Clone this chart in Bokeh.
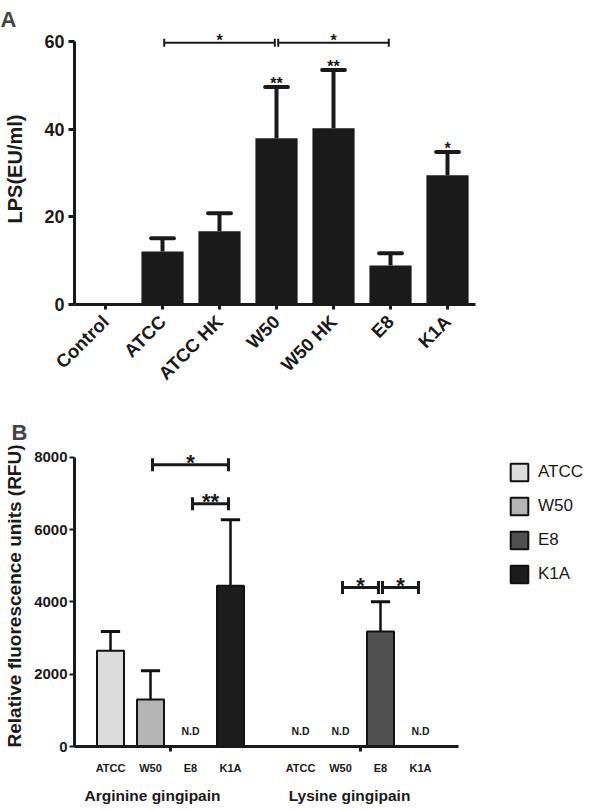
import math
from bokeh.plotting import figure
from bokeh.models import (ColumnDataSource, FixedTicker, LinearAxis, Legend,
                          LegendItem, Range1d)
from bokeh.layouts import column
from bokeh.embed import file_html
from bokeh.resources import INLINE
from bokeh.core.properties import value

# ---------------- Panel A data ----------------
a_categories = ["Control", "ATCC", "ATCC HK", "W50", "W50 HK", "E8", "K1A"]
a_means = [0.0, 12.1, 16.7, 37.9, 40.2, 8.9, 29.5]
a_upper = [0.0, 15.1, 20.8, 49.6, 53.5, 11.7, 34.8]
a_marks = ["", "", "", "**", "**", "", "*"]
a_y_ticks = [0, 20, 40, 60]
a_brackets_from = ["ATCC", "W50"]
a_brackets_to = ["W50", "E8"]
a_brackets_y = [59.7, 59.7]
a_brackets_mark = ["*", "*"]

# ---------------- Panel B data ----------------
b_strains = ["ATCC", "W50", "E8", "K1A"]
b_colors = ["#dcdcdc", "#b4b4b4", "#505050", "#1c1c1c"]
b_groups = ["Arginine gingipain", "Lysine gingipain"]
b_arg_means = [2650, 1300, 0, 4450]
b_arg_upper = [3180, 2100, 0, 6280]
b_lys_means = [0, 0, 3180, 0]
b_lys_upper = [0, 0, 4010, 0]
b_y_ticks = [0, 2000, 4000, 6000, 8000]
b_br_group = [0, 0, 1, 1]
b_br_from = ["W50", "E8", "W50", "E8"]
b_br_to = ["K1A", "K1A", "E8", "K1A"]
b_br_y = [7800, 6720, 4400, 4400]
b_br_mark = ["*", "**", "*", "*"]

FONT = "Liberation Sans"
INK = "#1a1a1a"

# ======================= Panel A =======================
a_pos = [i + 1 for i in range(len(a_categories))]
pA = figure(frame_width=510, frame_height=271,
            x_range=Range1d(0.456, 0.456 + 510 / 57), y_range=Range1d(0, 61.8),
            output_backend="svg", toolbar_location=None,
            min_border_left=74, min_border_right=0, min_border_top=33,
            min_border_bottom=85, outline_line_color=None)
pA.xgrid.visible = False
pA.ygrid.visible = False

pA.title.text = "A"
pA.title.text_font = FONT
pA.title.text_font_size = "22px"
pA.title.text_font_style = "bold"
pA.title.align = "left"
pA.title.offset = -74
pA.title.standoff = 4

srcA = ColumnDataSource(dict(x=a_pos, top=a_means, mark=a_marks, up=a_upper))
err_idx = [i for i in range(len(a_pos)) if a_upper[i] > a_means[i]]
srcAe = ColumnDataSource(dict(x=[a_pos[i] for i in err_idx],
                              top=[a_means[i] for i in err_idx],
                              up=[a_upper[i] for i in err_idx],
                              cl=[a_pos[i] - 0.2 for i in err_idx],
                              cr=[a_pos[i] + 0.2 for i in err_idx]))
pA.segment(x0="x", y0="top", x1="x", y1="up", source=srcAe, line_color=INK, line_width=4)
pA.segment(x0="cl", y0="up", x1="cr", y1="up", source=srcAe, line_color=INK,
           line_width=4, line_cap="round")
pA.vbar(x="x", top="top", bottom=0, width=0.74, source=srcA, fill_color=INK, line_color=None)
pA.text(x="x", y="up", text="mark", source=srcA, text_align="center",
        text_baseline="alphabetic", y_offset=-3, text_font=value(FONT),
        text_font_size="16px", text_font_style="bold", text_color=INK)

# brackets
idx = {c: i + 1 for i, c in enumerate(a_categories)}
bx0 = [idx[c] + 0.03 for c in a_brackets_from]
bx1 = [idx[c] - 0.03 for c in a_brackets_to]
pA.segment(x0=bx0, y0=a_brackets_y, x1=bx1, y1=a_brackets_y, line_color=INK, line_width=2)
pA.segment(x0=bx0 + bx1, y0=[y - 0.9 for y in a_brackets_y * 2],
           x1=bx0 + bx1, y1=[y + 0.9 for y in a_brackets_y * 2], line_color=INK, line_width=2)
pA.text(x=[(a + b) / 2 for a, b in zip(bx0, bx1)], y=a_brackets_y, text=a_brackets_mark,
        text_align="center", text_baseline="alphabetic", y_offset=-2,
        text_font=value(FONT), text_font_size="16px", text_font_style="bold", text_color=INK)

ya = pA.yaxis[0]
ya.ticker = FixedTicker(ticks=a_y_ticks)
ya.bounds = (0, 60)
ya.axis_line_width = 3
ya.axis_line_color = INK
ya.major_tick_out = 6
ya.major_tick_in = 0
ya.major_tick_line_width = 3
ya.major_tick_line_color = INK
ya.minor_tick_line_color = None
ya.major_label_text_font = FONT
ya.major_label_text_font_size = "18px"
ya.major_label_text_font_style = "bold"
ya.major_label_text_color = INK
ya.major_label_standoff = 4
ya.axis_label = "LPS(EU/ml)"
ya.axis_label_text_font = FONT
ya.axis_label_text_font_size = "20px"
ya.axis_label_text_font_style = "bold"
ya.axis_label_text_color = INK
ya.axis_label_standoff = 15

xa = pA.xaxis[0]
xa.ticker = FixedTicker(ticks=a_pos)
xa.major_label_overrides = {p: c for p, c in zip(a_pos, a_categories)}
xa.bounds = (0.456, 7.49)
xa.axis_line_width = 3
xa.axis_line_color = INK
xa.major_tick_out = 5
xa.major_tick_in = 0
xa.major_tick_line_width = 3
xa.major_tick_line_color = INK
xa.minor_tick_line_color = None
xa.major_label_orientation = math.pi / 4
xa.major_label_text_font = FONT
xa.major_label_text_font_size = "18.5px"
xa.major_label_text_font_style = "bold"
xa.major_label_text_color = INK
xa.major_label_standoff = 9

# ======================= Panel B =======================
arg_pos = [0.9 + i for i in range(len(b_strains))]
lys_pos = [5.65 + i for i in range(len(b_strains))]
group_centers = [(arg_pos[0] + arg_pos[-1]) / 2, (lys_pos[0] + lys_pos[-1]) / 2]
group_label_pos = [1.95, 6.875]

pB = figure(frame_width=521, frame_height=301,
            x_range=Range1d(0, 521 / 40), y_range=Range1d(0, 8332),
            output_backend="svg", toolbar_location=None,
            min_border_left=63, min_border_right=0, min_border_top=51,
            min_border_bottom=50, outline_line_color=None)
pB.xgrid.visible = False
pB.ygrid.visible = False

pB.title.text = "B"
pB.title.text_font = FONT
pB.title.text_font_size = "22px"
pB.title.text_font_style = "bold"
pB.title.align = "left"
pB.title.offset = -63
pB.title.standoff = 2

items = []
ex, ey0, ey1 = [], [], []
nd_x = []
for i, s in enumerate(b_strains):
    xs, tops, ups = [], [], []
    for pos, m, u in ((arg_pos[i], b_arg_means[i], b_arg_upper[i]),
                      (lys_pos[i], b_lys_means[i], b_lys_upper[i])):
        if m > 0:
            xs.append(pos); tops.append(m); ups.append(u)
        else:
            nd_x.append(pos)
    ex += xs; ey0 += tops; ey1 += ups
    src = ColumnDataSource(dict(x=xs, top=tops))
    r = pB.vbar(x="x", top="top", bottom=0, width=0.675, source=src,
                fill_color=b_colors[i], line_color="#111111", line_width=2)
    items.append(LegendItem(label=s, renderers=[r]))

pB.segment(x0=ex, y0=ey1, x1=ex, y1=ey0, line_color="#111111", line_width=2.5, level="underlay")
pB.segment(x0=[x - 0.24 for x in ex], y0=ey1, x1=[x + 0.24 for x in ex], y1=ey1,
           line_color="#111111", line_width=3)

pB.text(x=nd_x, y=[0] * len(nd_x), text=["N.D"] * len(nd_x), text_align="center",
        text_baseline="middle", y_offset=-16, text_font=value(FONT),
        text_font_size="10.5px", text_font_style="bold", text_color=INK)

posmap = [dict(zip(b_strains, arg_pos)), dict(zip(b_strains, lys_pos))]
cx0 = [posmap[g][a] + 0.05 for g, a in zip(b_br_group, b_br_from)]
cx1 = [posmap[g][b] - 0.05 for g, b in zip(b_br_group, b_br_to)]
pB.segment(x0=cx0, y0=b_br_y, x1=cx1, y1=b_br_y, line_color=INK, line_width=3)
pB.segment(x0=cx0 + cx1, y0=[y - 180 for y in b_br_y * 2],
           x1=cx0 + cx1, y1=[y + 180 for y in b_br_y * 2], line_color=INK, line_width=3)
pB.text(x=[(a + b) / 2 for a, b in zip(cx0, cx1)], y=b_br_y, text=b_br_mark,
        text_align="center", text_baseline="alphabetic", y_offset=-2,
        text_font=value(FONT), text_font_size="22px", text_font_style="bold", text_color=INK)

yb = pB.yaxis[0]
yb.ticker = FixedTicker(ticks=b_y_ticks)
yb.bounds = (0, 8000)
yb.axis_line_width = 3
yb.axis_line_color = INK
yb.major_tick_out = 5
yb.major_tick_in = 0
yb.major_tick_line_width = 2
yb.major_tick_line_color = INK
yb.minor_tick_line_color = None
yb.major_label_text_font = FONT
yb.major_label_text_font_size = "15px"
yb.major_label_text_font_style = "bold"
yb.major_label_text_color = INK
yb.major_label_standoff = 2
yb.axis_label = "Relative fluorescence units (RFU)"
yb.axis_label_text_font = FONT
yb.axis_label_text_font_size = "19px"
yb.axis_label_text_font_style = "bold"
yb.axis_label_text_color = INK
yb.axis_label_standoff = 6

xb = pB.xaxis[0]
sub_pos = arg_pos + lys_pos
xb.ticker = FixedTicker(ticks=sub_pos, minor_ticks=group_centers)
xb.major_label_overrides = {p: s for p, s in zip(sub_pos, b_strains * 2)}
xb.bounds = (0, 9.6)
xb.axis_line_width = 3
xb.axis_line_color = INK
xb.major_tick_out = 0
xb.major_tick_in = 0
xb.major_tick_line_color = None
xb.minor_tick_out = 5
xb.minor_tick_in = 0
xb.minor_tick_line_width = 3
xb.minor_tick_line_color = INK
xb.major_label_text_font = FONT
xb.major_label_text_font_size = "11px"
xb.major_label_text_font_style = "bold"
xb.major_label_text_color = INK
xb.major_label_standoff = 10

xg = LinearAxis(ticker=FixedTicker(ticks=group_label_pos),
                major_label_overrides={p: g for p, g in zip(group_label_pos, b_groups)})
xg.axis_line_color = None
xg.major_tick_line_color = None
xg.minor_tick_line_color = None
xg.major_label_text_font = FONT
xg.major_label_text_font_size = "15.5px"
xg.major_label_text_font_style = "bold"
xg.major_label_text_color = INK
xg.major_label_standoff = 4
pB.add_layout(xg, "below")

legend = Legend(items=items, location=(435, 161), glyph_width=22, glyph_height=22,
                label_height=22, spacing=12, padding=0, margin=0,
                border_line_alpha=0, background_fill_alpha=0, label_standoff=8,
                label_text_font=FONT, label_text_font_size="17px", label_text_color=INK)
pB.add_layout(legend)

layout = column(pA, pB)
open("out.html", "w").write(file_html(layout, INLINE))
